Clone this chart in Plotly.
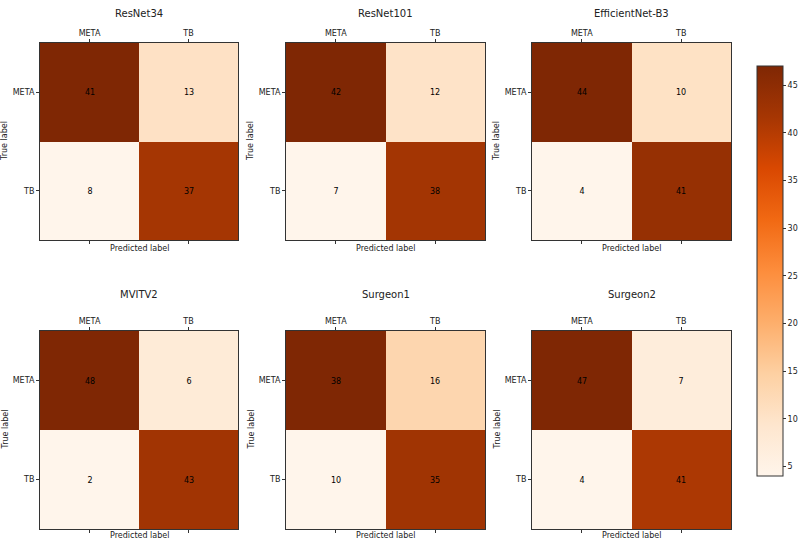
import plotly.graph_objects as go

labels = ["META", "TB"]
titles = ["ResNet34", "ResNet101", "EfficientNet-B3", "MVITV2", "Surgeon1", "Surgeon2"]
matrices = [
    [[41, 13], [8, 37]],
    [[42, 12], [7, 38]],
    [[44, 10], [4, 41]],
    [[48, 6], [2, 43]],
    [[38, 16], [10, 35]],
    [[47, 7], [4, 41]],
]
cbar_ticks = [5, 10, 15, 20, 25, 30, 35, 40, 45]

W, H = 800, 540
FONT = "DejaVu Sans"

# pixel geometry of each panel
col_px = [(40, 238), (286, 485), (532, 731)]
row_px = [(43, 240), (331, 529)]
title_py = [13.5, 294]
xlabel_py = [248.5, 535]

oranges = [
    [0.0, "rgb(255,245,235)"], [0.125, "rgb(254,230,206)"], [0.25, "rgb(253,208,162)"],
    [0.375, "rgb(253,174,107)"], [0.5, "rgb(253,141,60)"], [0.625, "rgb(241,105,19)"],
    [0.75, "rgb(217,72,1)"], [0.875, "rgb(166,54,3)"], [1.0, "rgb(127,39,4)"],
]

fig = go.Figure()
annotations = []
for i, (title, z) in enumerate(zip(titles, matrices)):
    r, c = divmod(i, 3)
    k = "" if i == 0 else str(i + 1)
    flat = [v for row in z for v in row]
    x0, x1 = col_px[c]
    y0, y1 = row_px[r]
    last = i == len(titles) - 1
    fig.add_trace(go.Heatmap(
        z=z, x=labels, y=labels,
        xaxis="x" + k, yaxis="y" + k,
        colorscale=oranges, zmin=min(flat), zmax=max(flat),
        texttemplate="%{z}", textfont=dict(family=FONT, size=8, color="black"),
        showscale=last,
        colorbar=dict(
            x=757 / W, xanchor="left", y=1 - 271 / H, yanchor="middle",
            lenmode="pixels", len=410, thickness=26, xpad=0, ypad=0,
            outlinewidth=1, outlinecolor="#333",
            tickvals=cbar_ticks, ticks="outside", ticklen=3, tickcolor="#333",
            tickfont=dict(family=FONT, size=8, color="#222"),
        ) if last else None,
        hoverinfo="skip",
    ))
    fig.update_layout(**{
        "xaxis" + k: dict(
            domain=[x0 / W, x1 / W], anchor="y" + k, side="top", automargin=False,
            showgrid=False, zeroline=False, showline=True, linecolor="#333", linewidth=1,
            mirror="ticks", ticks="outside", ticklen=3, tickcolor="#333",
            tickfont=dict(family=FONT, size=8, color="#222"), fixedrange=True,
        ),
        "yaxis" + k: dict(
            domain=[1 - y1 / H, 1 - y0 / H], anchor="x" + k, autorange="reversed", automargin=False,
            showgrid=False, zeroline=False, showline=True, linecolor="#333", linewidth=1,
            mirror=True, ticks="outside", ticklen=3, tickcolor="#333",
            tickfont=dict(family=FONT, size=8, color="#222"), fixedrange=True,
        ),
    })
    cx = (x0 + x1) / 2 / W
    annotations.append(dict(text=title, x=cx, y=1 - title_py[r] / H, xref="paper", yref="paper",
                            showarrow=False, xanchor="center", yanchor="middle",
                            font=dict(family=FONT, size=10, color="#222")))
    annotations.append(dict(text="Predicted label", x=cx, y=1 - xlabel_py[r] / H, xref="paper", yref="paper",
                            showarrow=False, xanchor="center", yanchor="middle",
                            font=dict(family=FONT, size=8, color="#222")))
    annotations.append(dict(text="True label", x=(x0 - 35.5) / W, y=1 - (y0 + y1) / 2 / H,
                            xref="paper", yref="paper", textangle=-90,
                            showarrow=False, xanchor="center", yanchor="middle",
                            font=dict(family=FONT, size=8, color="#222")))

fig.update_layout(
    width=W, height=H, margin=dict(l=0, r=0, t=0, b=0, autoexpand=False),
    paper_bgcolor="white", plot_bgcolor="white",
    annotations=annotations, showlegend=False,
)
fig.write_html("out.html", config={"displayModeBar": False},
               post_script="document.body.style.margin='0';document.body.style.overflow='hidden';")
